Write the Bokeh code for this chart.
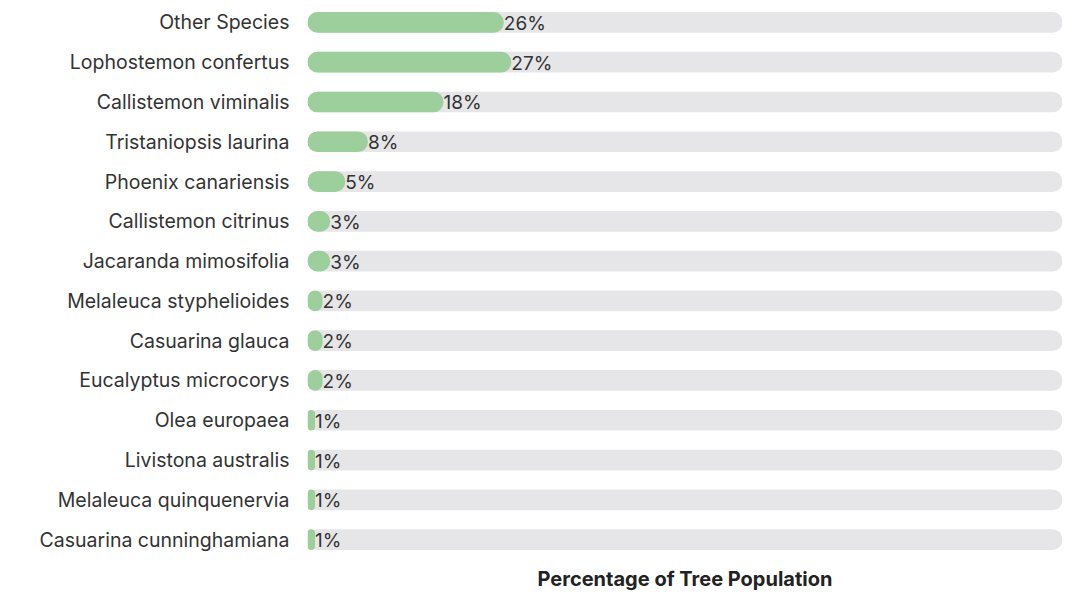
from bokeh.plotting import figure
from bokeh.models import ColumnDataSource, Range1d, FixedTicker
from bokeh.embed import file_html
from bokeh.resources import INLINE
from bokeh.core.properties import value

species = ["Other Species", "Lophostemon confertus", "Callistemon viminalis",
           "Tristaniopsis laurina", "Phoenix canariensis", "Callistemon citrinus",
           "Jacaranda mimosifolia", "Melaleuca styphelioides", "Casuarina glauca",
           "Eucalyptus microcorys", "Olea europaea", "Livistona australis",
           "Melaleuca quinquenervia", "Casuarina cunninghamiana"]
pct = [26, 27, 18, 8, 5, 3, 3, 2, 2, 2, 1, 1, 1, 1]
track_max = 100

FONT = "Inter"
TEXT = "#333333"

idx = list(range(len(species)))
src = ColumnDataSource(dict(
    y=idx,
    pct=pct,
    zero=[0] * len(pct),
    full=[track_max] * len(pct),
    lab=[f"{v}%" for v in pct],
))

p = figure(width=1078, height=593, output_backend="svg", toolbar_location=None,
           x_range=Range1d(0, track_max), y_range=Range1d(13.45, -0.35),
           min_border_left=307, min_border_right=16, min_border_top=8,
           min_border_bottom=33)
p.outline_line_color = None
p.grid.grid_line_color = None
p.background_fill_color = "white"

p.hbar(y="y", left="zero", right="full", height=0.52, source=src,
       fill_color="#e6e6e8", line_color=None, border_radius=10)
p.hbar(y="y", left="zero", right="pct", height=0.52, source=src,
       fill_color="#9ccf9c", line_color=None, border_radius=10)
p.text(x="pct", y="y", text="lab", source=src, text_align="left",
       text_baseline="middle", text_font=value(FONT), text_font_size="19px",
       text_color=TEXT, x_offset=0, y_offset=1)

ya = p.yaxis[0]
ya.ticker = FixedTicker(ticks=idx)
ya.major_label_overrides = {i: s for i, s in enumerate(species)}
ya.major_label_text_font = FONT
ya.major_label_text_font_size = "19.5px"
ya.major_label_text_color = TEXT
ya.axis_line_color = None
ya.major_tick_line_color = None
ya.minor_tick_line_color = None
ya.major_label_standoff = 12

xa = p.xaxis[0]
xa.ticker = FixedTicker(ticks=[])
xa.axis_line_color = None
xa.major_tick_line_color = None
xa.minor_tick_line_color = None
xa.axis_label = "Percentage of Tree Population"
xa.axis_label_text_font = FONT
xa.axis_label_text_font_style = "bold"
xa.axis_label_text_font_size = "20px"
xa.axis_label_text_color = "#222222"
xa.axis_label_standoff = 9

open("out.html", "w").write(file_html(p, INLINE))
